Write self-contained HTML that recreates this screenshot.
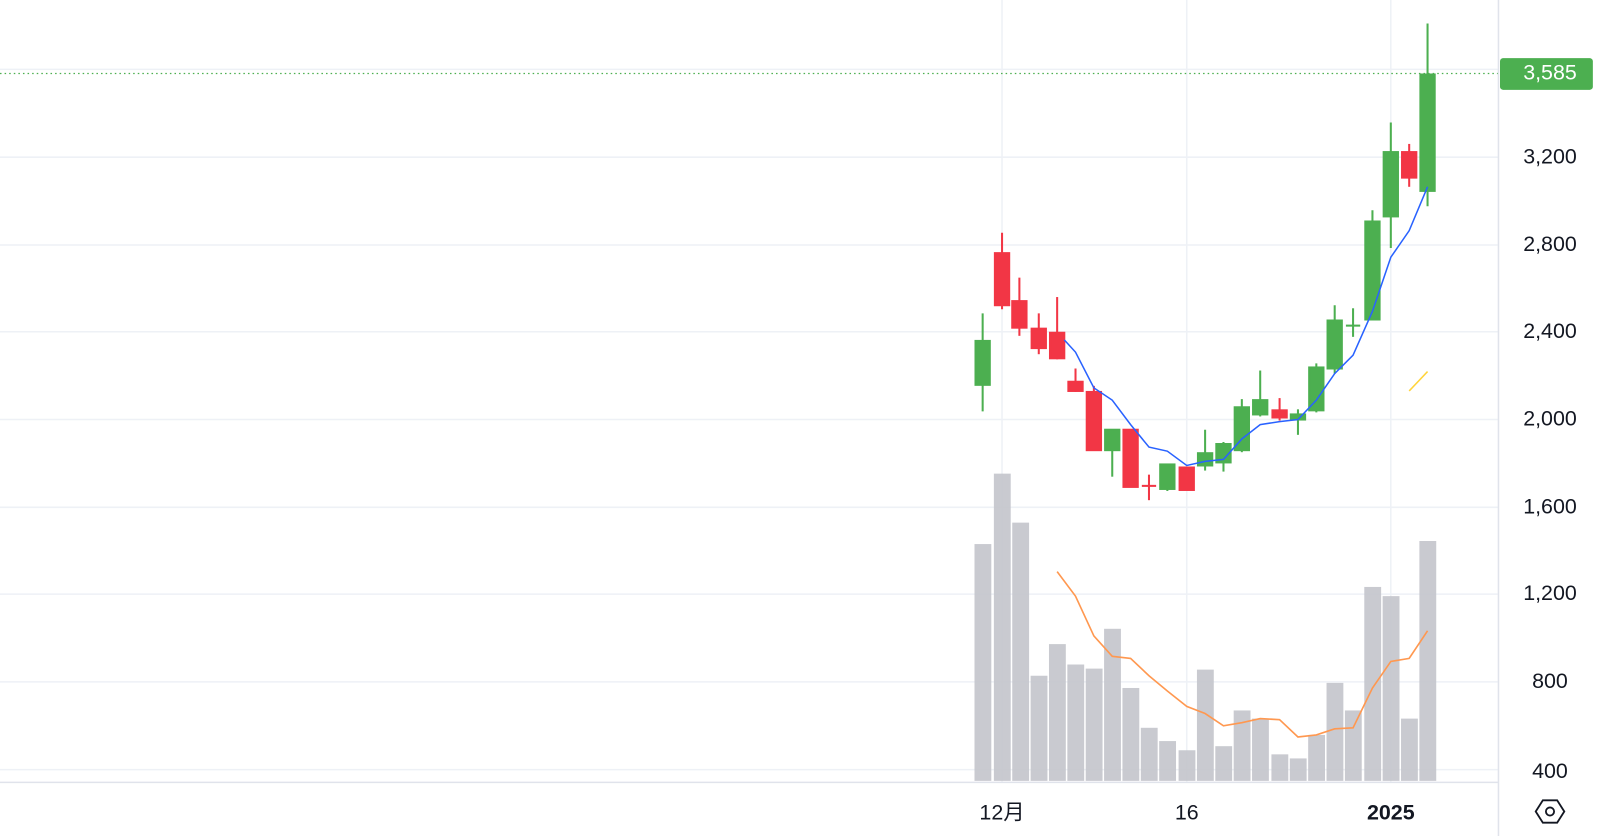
<!DOCTYPE html>
<html><head><meta charset="utf-8"><style>
html,body{margin:0;padding:0;background:#fff;width:1600px;height:836px;overflow:hidden}
svg{display:block}
text{font-family:"Liberation Sans","Noto Sans CJK JP",sans-serif;fill:#131722}
</style></head><body>
<svg width="1600" height="836" viewBox="0 0 1568 819" preserveAspectRatio="none">
<g stroke="#eef1f6" stroke-width="1.5">
<line x1="0" y1="68" x2="1468" y2="68"/><line x1="0" y1="154" x2="1468" y2="154"/><line x1="0" y1="240" x2="1468" y2="240"/><line x1="0" y1="325" x2="1468" y2="325"/><line x1="0" y1="411" x2="1468" y2="411"/><line x1="0" y1="497" x2="1468" y2="497"/><line x1="0" y1="582" x2="1468" y2="582"/><line x1="0" y1="668" x2="1468" y2="668"/><line x1="0" y1="754" x2="1468" y2="754"/>
<line x1="982" y1="0" x2="982" y2="766"/><line x1="1163" y1="0" x2="1163" y2="766"/><line x1="1363" y1="0" x2="1363" y2="766"/>
</g>
<g fill="#c3c4cb" fill-opacity="0.9">
<rect x="955" y="533" width="16.5" height="232"/><rect x="974" y="464" width="16.5" height="301"/><rect x="992" y="512" width="16.5" height="253"/><rect x="1010" y="662" width="16.5" height="103"/><rect x="1028" y="631" width="16.5" height="134"/><rect x="1046" y="651" width="16.5" height="114"/><rect x="1064" y="655" width="16.5" height="110"/><rect x="1082" y="616" width="16.5" height="149"/><rect x="1100" y="674" width="16.5" height="91"/><rect x="1118" y="713" width="16.5" height="52"/><rect x="1136" y="726" width="16.5" height="39"/><rect x="1155" y="735" width="16.5" height="30"/><rect x="1173" y="656" width="16.5" height="109"/><rect x="1191" y="731" width="16.5" height="34"/><rect x="1209" y="696" width="16.5" height="69"/><rect x="1227" y="704" width="16.5" height="61"/><rect x="1246" y="739" width="16.5" height="26"/><rect x="1264" y="743" width="16.5" height="22"/><rect x="1282" y="720" width="16.5" height="45"/><rect x="1300" y="669" width="16.5" height="96"/><rect x="1318" y="696" width="16.5" height="69"/><rect x="1337" y="575" width="16.5" height="190"/><rect x="1355" y="584" width="16.5" height="181"/><rect x="1373" y="704" width="16.5" height="61"/><rect x="1391" y="530" width="16.5" height="235"/>
</g>
<polyline fill="none" stroke="#ff9850" stroke-width="1.6" points="1036,560 1054,584 1072,623 1090,643 1108,645 1126,662 1144,677 1163,692 1181,699 1199,711 1217,708 1235,704 1254,705 1272,722 1290,720 1308,714 1326,713 1345,674 1363,648 1381,645 1399,618"/>
<g stroke-width="2">
<!-- green candles -->
<g stroke="#4caf50" fill="#4caf50">
<line x1="963" y1="307" x2="963" y2="403"/><rect x="956" y="334" width="14" height="43"/>
<line x1="1090" y1="421" x2="1090" y2="467"/><rect x="1083" y="421" width="14" height="20"/>
<line x1="1144" y1="455" x2="1144" y2="481"/><rect x="1137" y="455" width="14" height="24"/>
<line x1="1181" y1="421" x2="1181" y2="461"/><rect x="1174" y="444" width="14" height="12"/>
<line x1="1199" y1="433" x2="1199" y2="462"/><rect x="1192" y="435" width="14" height="18"/>
<line x1="1217" y1="391" x2="1217" y2="443"/><rect x="1210" y="399" width="14" height="42"/>
<line x1="1235" y1="363" x2="1235" y2="408"/><rect x="1228" y="392" width="14" height="14"/>
<line x1="1272" y1="401" x2="1272" y2="426"/><rect x="1265" y="406" width="14" height="5"/>
<line x1="1290" y1="356" x2="1290" y2="404"/><rect x="1283" y="360" width="14" height="42"/>
<line x1="1308" y1="299" x2="1308" y2="366"/><rect x="1301" y="314" width="14" height="47"/>
<line x1="1326" y1="302" x2="1326" y2="330"/><line x1="1319" y1="319" x2="1333" y2="319"/>
<line x1="1345" y1="206" x2="1345" y2="313"/><rect x="1338" y="217" width="14" height="96"/>
<line x1="1363" y1="120" x2="1363" y2="243"/><rect x="1356" y="149" width="14" height="63"/>
<line x1="1399" y1="23" x2="1399" y2="202"/><rect x="1392" y="73" width="14" height="114"/>
</g>
<g stroke="#f23645" fill="#f23645">
<line x1="982" y1="228" x2="982" y2="303"/><rect x="975" y="248" width="14" height="51"/>
<line x1="999" y1="272" x2="999" y2="329"/><rect x="992" y="295" width="14" height="26"/>
<line x1="1018" y1="307" x2="1018" y2="347"/><rect x="1011" y="322" width="14" height="19"/>
<line x1="1036" y1="291" x2="1036" y2="352"/><rect x="1029" y="326" width="14" height="25"/>
<line x1="1054" y1="361" x2="1054" y2="384"/><rect x="1047" y="374" width="14" height="9"/>
<line x1="1072" y1="378" x2="1072" y2="441"/><rect x="1065" y="384" width="14" height="57"/>
<rect x="1101" y="421" width="14" height="56"/>
<line x1="1126" y1="465" x2="1126" y2="490"/><line x1="1119" y1="476" x2="1133" y2="476"/>
<line x1="1163" y1="465" x2="1163" y2="480"/><rect x="1156" y="458" width="14" height="22"/>
<line x1="1254" y1="390" x2="1254" y2="412"/><rect x="1247" y="402" width="14" height="7"/>
<line x1="1381" y1="141" x2="1381" y2="183"/><rect x="1374" y="149" width="14" height="25"/>
</g>
</g>
<polyline fill="none" stroke="#2962ff" stroke-width="1.5" points="1043,333 1054,345 1072,380 1090,392 1108,416 1126,438 1144,442 1163,456 1181,452 1199,450 1217,430 1235,416 1254,413 1272,411 1290,392 1308,366 1326,348 1345,305 1363,252 1381,226 1399,183"/>
<line x1="1381" y1="383" x2="1399" y2="364" stroke="#ffd43b" stroke-width="1.5"/>
<line x1="0" y1="72" x2="1468" y2="72" stroke="#4caf50" stroke-width="1.3" stroke-dasharray="1.5 3"/>
<line x1="1468.5" y1="0" x2="1468.5" y2="819" stroke="#e0e3eb" stroke-width="1.5"/>
<line x1="0" y1="766.5" x2="1468" y2="766.5" stroke="#e0e3eb" stroke-width="1.5"/>
<g font-size="21" text-anchor="middle">
<text x="1519" y="160">3,200</text><text x="1519" y="246">2,800</text><text x="1519" y="331">2,400</text><text x="1519" y="417">2,000</text><text x="1519" y="503">1,600</text><text x="1519" y="588">1,200</text><text x="1519" y="674">800</text><text x="1519" y="762">400</text>
</g>
<rect x="1470" y="57" width="91" height="31" rx="3" fill="#4caf50"/>
<text x="1519" y="78" font-size="21" text-anchor="middle" style="fill:#fff">3,585</text>
<g font-size="21" text-anchor="middle">
<text x="982" y="803">12月</text><text x="1163" y="803">16</text><text x="1363" y="803" font-weight="bold">2025</text>
</g>
<polygon points="1512,784 1526,784 1533,795 1526,806 1512,806 1505,795" fill="none" stroke="#131722" stroke-width="1.8"/>
<circle cx="1519" cy="795" r="4" fill="none" stroke="#131722" stroke-width="1.8"/>
</svg>
</body></html>
